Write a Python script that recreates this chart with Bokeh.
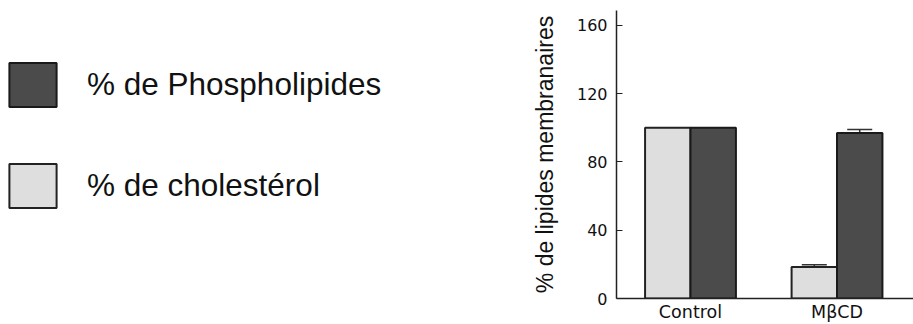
from bokeh.plotting import figure
from bokeh.layouts import row
from bokeh.models import (ColumnDataSource, Range1d, FixedTicker, Legend, LegendItem,
                          Whisker, TeeHead)
from bokeh.embed import file_html
from bokeh.resources import INLINE

# ---- data ----
categories = ["Control", "MβCD"]
cholesterol = [100, 18.5]
phospholipids = [100, 97]
cholesterol_err = [0, 1.3]
phospholipids_err = [0, 2.0]
y_ticks = [0, 40, 80, 120, 160]
series_labels = ["% de Phospholipides", "% de cholestérol"]
y_label = "% de lipides membranaires"

OFF = 0.155
BAR_W = 0.31
DARK = "#4b4b4b"
LIGHT = "#dedede"
CHOL_STYLE = dict(fill_color=LIGHT, line_color="#222222", line_width=2)
PHOS_STYLE = dict(fill_color=DARK, line_color="#1a1a1a", line_width=2)

idx = list(range(len(categories)))
src_chol = ColumnDataSource(dict(x=[i - OFF for i in idx], top=cholesterol))
src_phos = ColumnDataSource(dict(x=[i + OFF for i in idx], top=phospholipids))

LEFT_W = 520

# ---------- chart ----------
p = figure(width=913 - LEFT_W, height=324, output_backend="svg", toolbar_location=None,
           x_range=Range1d(-0.505, 1.522), y_range=Range1d(0, 168.7),
           min_border_left=616 - LEFT_W, min_border_right=0, min_border_top=10,
           min_border_bottom=0)
p.outline_line_color = None
p.xgrid.visible = False
p.ygrid.visible = False

r_chol = p.vbar(x="x", top="top", width=BAR_W, source=src_chol, **CHOL_STYLE)
r_phos = p.vbar(x="x", top="top", width=BAR_W, source=src_phos, **PHOS_STYLE)

def whisker_source(xs, vals, errs):
    d = dict(base=[], lower=[], upper=[])
    for x, v, e in zip(xs, vals, errs):
        if e > 0:
            d["base"].append(x)
            d["lower"].append(v)
            d["upper"].append(v + e)
    return ColumnDataSource(d)

for xs, vals, errs in [([i - OFF for i in idx], cholesterol, cholesterol_err),
                       ([i + OFF for i in idx], phospholipids, phospholipids_err)]:
    w = Whisker(base="base", lower="lower", upper="upper",
                source=whisker_source(xs, vals, errs),
                upper_head=TeeHead(size=25, line_color="#333333", line_width=1.5),
                lower_head=None, line_color="#333333", line_width=1.5)
    p.add_layout(w)

xa = p.xaxis[0]
xa.ticker = FixedTicker(ticks=idx)
xa.major_label_overrides = {i: c for i, c in zip(idx, categories)}
xa.major_tick_in = 0
xa.major_tick_out = 0
xa.minor_tick_line_color = None
xa.axis_line_color = "#222222"
xa.axis_line_width = 1.5
xa.major_label_text_font = "DejaVu Sans"
xa.major_label_text_font_size = "17.5px"
xa.major_label_text_color = "#111111"
xa.major_label_standoff = 3

ya = p.yaxis[0]
ya.ticker = FixedTicker(ticks=y_ticks)
ya.major_tick_in = 6
ya.major_tick_out = 0
ya.minor_tick_line_color = None
ya.axis_line_color = "#222222"
ya.axis_line_width = 1.5
ya.major_tick_line_color = "#222222"
ya.major_tick_line_width = 1.2
ya.major_label_text_font = "DejaVu Sans"
ya.major_label_text_font_size = "16px"
ya.major_label_text_color = "#111111"
ya.major_label_standoff = 9
ya.axis_label = y_label
ya.axis_label_text_font = "Liberation Sans"
ya.axis_label_text_font_size = "23px"
ya.axis_label_text_font_style = "normal"
ya.axis_label_text_color = "#111111"
ya.axis_label_standoff = 16

# ---------- legend panel ----------
lg = figure(width=LEFT_W, height=324, output_backend="svg", toolbar_location=None,
            x_range=Range1d(-0.505, 1.522), y_range=Range1d(0, 168.7),
            x_axis_type=None, y_axis_type=None,
            min_border_left=0, min_border_right=0, min_border_top=0, min_border_bottom=0)
lg.outline_line_color = None
lg.xgrid.visible = False
lg.ygrid.visible = False
lr_chol = lg.vbar(x="x", top="top", width=BAR_W, source=src_chol, visible=False, **CHOL_STYLE)
lr_phos = lg.vbar(x="x", top="top", width=BAR_W, source=src_phos, visible=False, **PHOS_STYLE)

legend = Legend(items=[LegendItem(label=series_labels[0], renderers=[lr_phos]),
                       LegendItem(label=series_labels[1], renderers=[lr_chol])],
                location=(3, 85), glyph_width=59, glyph_height=55, spacing=46,
                label_standoff=25, padding=0, margin=0,
                border_line_color=None, background_fill_alpha=0,
                inactive_fill_alpha=0,
                label_text_font="Liberation Sans", label_text_font_size="31.5px",
                label_text_color="#111111")
lg.add_layout(legend)

layout = row(lg, p, spacing=0)
open("out.html", "w").write(file_html(layout, INLINE))
